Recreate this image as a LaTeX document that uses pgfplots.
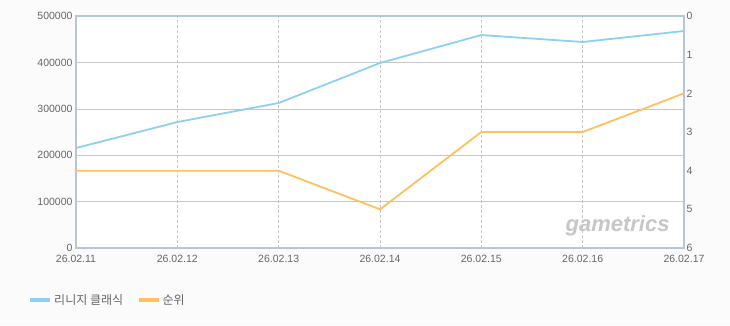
\documentclass[border=0pt]{standalone}
\usepackage{pgfplots}
\pgfplotsset{compat=1.18}
\usepackage{fontspec}
\setmainfont{Liberation Sans}
\newfontfamily\kr{Noto Sans CJK KR}
\definecolor{bl}{HTML}{8ED0F0}
\definecolor{og}{HTML}{FFC060}
\definecolor{frm}{HTML}{B4C6D8}
\definecolor{tk}{HTML}{666666}
\definecolor{gr}{HTML}{C8C8C8}
\definecolor{bg}{HTML}{FBFBFB}
\begin{document}
\begin{tikzpicture}
\fill[bg] (0pt,0pt) rectangle (730pt,325pt);
\path[use as bounding box] (0pt,0pt) rectangle (730pt,325pt);
\fill[white] (76pt,77pt) rectangle (684pt,309pt);
\begin{axis}[
  at={(76pt,77pt)}, anchor=south west,
  scale only axis, width=608pt, height=232pt,
  xmin=0, xmax=6, ymin=0, ymax=500000,
  xtick={0,...,6},
  xticklabels={26.02.11,26.02.12,26.02.13,26.02.14,26.02.15,26.02.16,26.02.17},
  ytick={0,100000,...,500000},
  xtick pos=bottom, ytick pos=left,
  scaled y ticks=false,
  /pgf/number format/assume math mode=true,
  yticklabel={\pgfmathprintnumber[fixed,precision=0,1000 sep={}]{\tick}},
  tick label style={font=\fontsize{10.5}{12}\selectfont, text=tk},
  xticklabel style={yshift=-4pt},
  major tick length=0pt,
  axis line style={frm, line width=1.6pt},
  ymajorgrids, xmajorgrids,
  y grid style={gr, line width=0.6pt},
  x grid style={gr, line width=0.5pt, dash pattern=on 3pt off 2pt},
  legend style={at={(-0.083,-0.224)}, anchor=west, draw=none, fill=none,
    legend columns=2, font=\kr\fontsize{12}{14}\selectfont, text=tk,
    /tikz/every even column/.append style={column sep=12pt}},
  legend image code/.code={\draw[#1, line width=3.5pt] (0pt,0pt) -- (20pt,0pt);},
  clip=false,
]
\addplot[bl, line width=1.8pt] coordinates {
(0,215500) (1,271500) (2,312500) (3,398700) (4,459000) (5,444000) (6,467700)};
\addlegendentry{리니지 클래식}
\addlegendimage{og, line width=1.8pt}
\addlegendentry{순위}
\node[anchor=south east, font=\bfseries\itshape\fontsize{22}{22}\selectfont, text=black!22] at (rel axis cs:0.982,0.035) {gametrics};
\end{axis}
\begin{axis}[
  at={(76pt,77pt)}, anchor=south west,
  scale only axis, width=608pt, height=232pt,
  xmin=0, xmax=6, ymin=0, ymax=6,
  y dir=reverse,
  axis x line=none,
  axis y line*=right,
  ytick={0,...,6},
  /pgf/number format/assume math mode=true,
  tick label style={font=\fontsize{10.5}{12}\selectfont, text=tk},
  yticklabel style={xshift=-1pt},
  major tick length=0pt,
  axis line style={frm, line width=1.6pt},
  clip=false,
]
\addplot[og, line width=1.8pt] coordinates {
(0,4) (1,4) (2,4) (3,5) (4,3) (5,3) (6,2)};
\end{axis}
\end{tikzpicture}
\end{document}
